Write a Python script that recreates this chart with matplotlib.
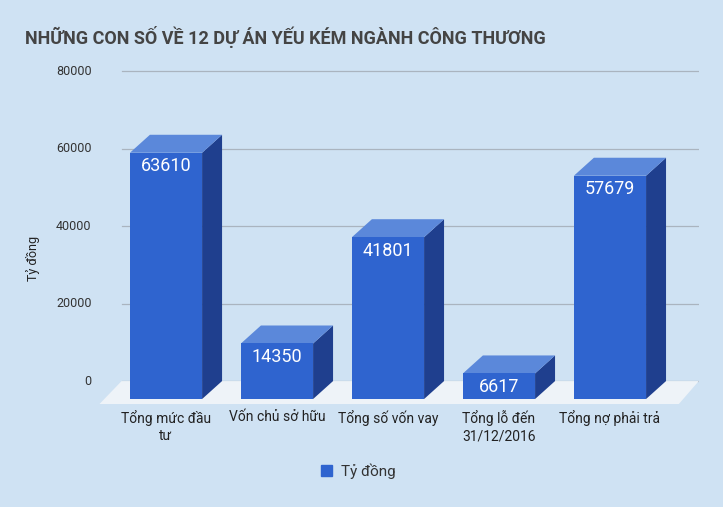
import matplotlib
matplotlib.use("Agg")
import matplotlib.pyplot as plt
from matplotlib.patches import Polygon

plt.rcParams['font.family'] = ['Roboto', 'DejaVu Sans']

categories = ["Tổng mức đầu\ntư", "Vốn chủ sở hữu", "Tổng số vốn vay", "Tổng lỗ đến\n31/12/2016", "Tổng nợ phải trả"]
values = [63610, 14350, 41801, 6617, 57679]
yticks = [0, 20000, 40000, 60000, 80000]
title = "NHỮNG CON SỐ VỀ 12 DỰ ÁN YẾU KÉM NGÀNH CÔNG THƯƠNG"
series = "Tỷ đồng"

bg = "#cfe2f3"
front, side, top = "#2f64cf", "#1f3f8e", "#5b88da"
fig = plt.figure(figsize=(7.23, 5.07), dpi=100, facecolor=bg)
ax = fig.add_axes([0.1375, 0.203, 0.829, 0.678])
ax.set_facecolor(bg)
ax.set_xlim(-0.6, 4.8)
ax.set_ylim(-1300, 87480)
ax.axis('off')

D = 4645   # depth in y units
dx = 0.18  # depth in x units
w = 0.65

# floor
ax.add_patch(Polygon([(-0.6, -1300), (4.62, -1300), (4.8, D), (-0.4, D)],
                     closed=True, facecolor="#eef3f8", edgecolor="none", zorder=1))
for t in yticks:
    ax.plot([-0.4, 4.8], [t + D, t + D], color="#aab4bf", lw=0.9, zorder=0.5)
    ax.text(-0.67, t + D, str(t), ha='right', va='center', fontsize=9, color="#333333")

for i, v in enumerate(values):
    x0, x1 = i - w / 2, i + w / 2
    ax.add_patch(Polygon([(x1, 0), (x1 + dx, D), (x1 + dx, v + D), (x1, v)], facecolor=side, edgecolor="none", zorder=2))
    ax.add_patch(Polygon([(x0, v), (x1, v), (x1 + dx, v + D), (x0 + dx, v + D)], facecolor=top, edgecolor="none", zorder=2))
    ax.add_patch(Polygon([(x0, 0), (x1, 0), (x1, v), (x0, v)], facecolor=front, edgecolor="none", zorder=3))
    ax.text(i, v - 3500, str(v), ha='center', va='center', color='white', fontsize=13, zorder=4)
    ax.text(i, -2800, categories[i], ha='center', va='top', fontsize=10, color="#222222",
            linespacing=1.3)

fig.text(0.035, 0.928, title, fontsize=13, fontweight='bold', color="#444444", ha='left', va='center')
fig.text(0.045, 0.49, series, rotation=90, fontsize=9, color="#222222", ha='center', va='center')
fig.patches.append(plt.Rectangle((0.444, 0.061), 0.015, 0.021, transform=fig.transFigure, color=front, figure=fig))
fig.text(0.472, 0.071, series, fontsize=11, color="#333333", ha='left', va='center')

fig.savefig("out.png", dpi=100, facecolor=bg)
